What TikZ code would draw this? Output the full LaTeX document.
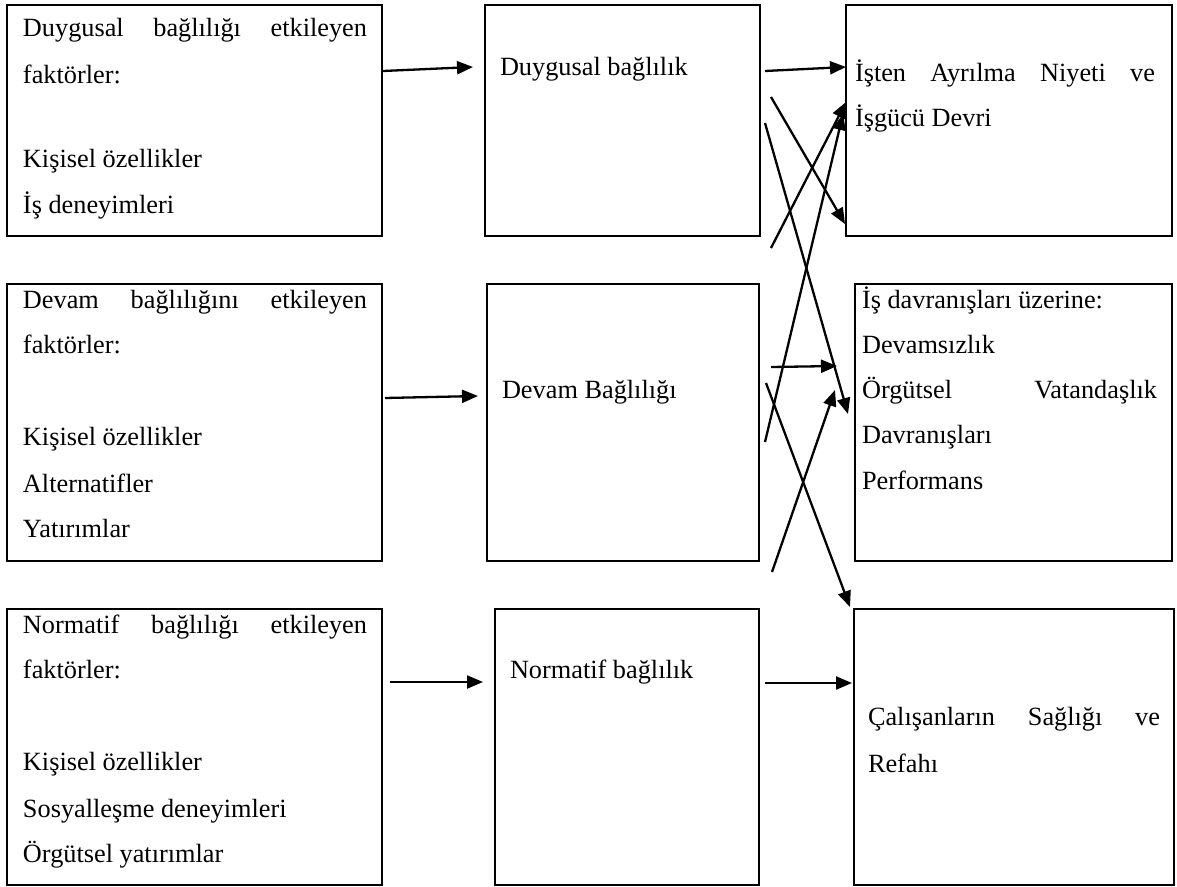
\documentclass[tikz,border=0pt]{standalone}
\usepackage{fontspec}
\setmainfont{Liberation Serif}
\usetikzlibrary{arrows.meta}
\tikzset{
  box/.style={draw, line width=2pt, inner sep=0pt, outer sep=0pt, anchor=north west},
  txt/.style={anchor=base west, inner sep=0pt, outer sep=0pt, font=\fontsize{26.3}{46}\selectfont},
  arr/.style={line width=2.3pt, -{Triangle[length=16pt,width=13pt]}}
}
\begin{document}
\begin{tikzpicture}[x=1pt,y=-1pt]
\useasboundingbox (0,0) rectangle (1177,886);
\fill[white] (0,0) rectangle (1177,886);
% boxes
\node[box, minimum width=375pt, minimum height=231pt] (A1) at (7,5) {};
\node[box, minimum width=375pt, minimum height=277pt] (A2) at (7,284) {};
\node[box, minimum width=375pt, minimum height=276pt] (A3) at (7,609) {};
\node[box, minimum width=275pt, minimum height=231pt] (B1) at (485,5) {};
\node[box, minimum width=272pt, minimum height=277pt] (B2) at (487,284) {};
\node[box, minimum width=264pt, minimum height=276pt] (B3) at (495,609) {};
\node[box, minimum width=326pt, minimum height=231pt] (C1) at (846,5) {};
\node[box, minimum width=317pt, minimum height=277pt] (C2) at (855,284) {};
\node[box, minimum width=320pt, minimum height=276pt] (C3) at (854,609) {};
% texts A1
\node[txt] (A1a) at (23,36) {\makebox[344pt][s]{Duygusal bağlılığı etkileyen}};
\node[txt] (A1b) at (23,83) {faktörler:};
\node[txt] (A1c) at (23,167) {Kişisel özellikler};
\node[txt] (A1d) at (23,213) {İş deneyimleri};
% texts A2
\node[txt] (A2a) at (23,308) {\makebox[344pt][s]{Devam bağlılığını etkileyen}};
\node[txt] (A2b) at (23,353) {faktörler:};
\node[txt] (A2c) at (23,445) {Kişisel özellikler};
\node[txt] (A2d) at (23,492) {Alternatifler};
\node[txt] (A2e) at (23,537) {Yatırımlar};
% texts A3
\node[txt] (A3a) at (23,633) {\makebox[344pt][s]{Normatif bağlılığı etkileyen}};
\node[txt] (A3b) at (23,678) {faktörler:};
\node[txt] (A3c) at (23,770) {Kişisel özellikler};
\node[txt] (A3d) at (23,817) {Sosyalleşme deneyimleri};
\node[txt] (A3e) at (23,862) {Örgütsel yatırımlar};
% middle texts
\node[txt] (B1a) at (500,75) {Duygusal bağlılık};
\node[txt] (B2a) at (502,398) {Devam Bağlılığı};
\node[txt] (B3a) at (510,678) {Normatif bağlılık};
% right texts
\node[txt] (C1a) at (855,81) {\makebox[300pt][s]{İşten Ayrılma Niyeti ve}};
\node[txt] (C1b) at (855,126) {İşgücü Devri};
\node[txt] (C2a) at (862,308) {İş davranışları üzerine:};
\node[txt] (C2b) at (862,353) {Devamsızlık};
\node[txt] (C2c) at (862,398) {\makebox[295pt][s]{Örgütsel Vatandaşlık}};
\node[txt] (C2d) at (862,443) {Davranışları};
\node[txt] (C2e) at (862,489) {Performans};
\node[txt] (C3a) at (868,725) {\makebox[292pt][s]{Çalışanların Sağlığı ve}};
\node[txt] (C3b) at (868,772) {Refahı};
% connector end points
\coordinate (r1s) at (383,71);  \coordinate (r1e) at (473,67);
\coordinate (r2s) at (765,71);  \coordinate (r2e) at (846,67);
\coordinate (r3s) at (385,398); \coordinate (r3e) at (478,396);
\coordinate (r4s) at (390,682); \coordinate (r4e) at (483,682);
\coordinate (r5s) at (765,683); \coordinate (r5e) at (852,683);
\coordinate (gs) at (771,367);  \coordinate (ge) at (837,366);
\coordinate (as) at (771,97);   \coordinate (ae) at (845,224);
\coordinate (bs) at (765,123);  \coordinate (be) at (848,414);
\coordinate (cs) at (771,248);  \coordinate (ce) at (846,102);
\coordinate (ds) at (765,442);  \coordinate (de) at (843,114);
\coordinate (es) at (766,383);  \coordinate (ee) at (850,607);
\coordinate (fs) at (772,572);  \coordinate (fe) at (835,390);
% connectors
\draw[arr] (r1s) -- (r1e);
\draw[arr] (r2s) -- (r2e);
\draw[arr] (r3s) -- (r3e);
\draw[arr] (r4s) -- (r4e);
\draw[arr] (r5s) -- (r5e);
\draw[arr] (gs) -- (ge);
\draw[arr] (as) -- (ae);
\draw[arr] (bs) -- (be);
\draw[arr] (cs) -- (ce);
\draw[arr] (ds) -- (de);
\draw[arr] (es) -- (ee);
\draw[arr] (fs) -- (fe);
\end{tikzpicture}
\end{document}
